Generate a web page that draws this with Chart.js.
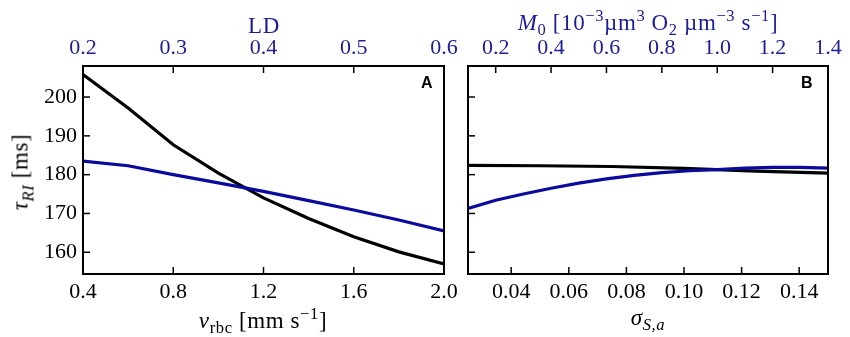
<!DOCTYPE html>
<html>
<head>
<meta charset="utf-8">
<script src="https://cdn.jsdelivr.net/npm/chart.js@4"></script>
<style>
  body { margin: 0; background: #fff; }
  #wrap { position: relative; width: 850px; height: 337px; overflow: hidden; font-family: "Liberation Serif", serif; }
  canvas { position: absolute; top: 0; }
  .lbl { position: absolute; white-space: nowrap; font-size: 23px; letter-spacing: 0.6px; line-height: 1; transform: translate(-50%, -50%); }
  .blue { color: #1c1c96; }
  .panel { position: absolute; font-family: "Liberation Sans", Arial, sans-serif; font-weight: bold; font-size: 16px; }
  sub, sup { font-size: 72%; line-height: 0; }
</style>
</head>
<body>
<div id="wrap">
  <canvas id="chartA" width="470" height="337" style="left:0"></canvas>
  <canvas id="chartB" width="395" height="337" style="left:455px"></canvas>

  <div class="lbl blue" style="left:264px; top:25px">LD</div>
  <div class="lbl blue" style="left:648px; top:22px"><i>M</i><sub>0</sub> [10<sup>&minus;3</sup>&micro;m<sup>3</sup> O<sub>2</sub> &micro;m<sup>&minus;3</sup> s<sup>&minus;1</sup>]</div>
  <div class="lbl" style="left:263px; top:320px"><i>v</i><sub>rbc</sub> [mm s<sup>&minus;1</sup>]</div>
  <div class="lbl" style="left:648px; top:317px"><i>&sigma;</i><sub><i>S,a</i></sub></div>
  <div class="lbl" style="left:20px; top:172px; transform: translate(-50%, -50%) rotate(-90deg)"><i>&tau;</i><sub><i>RI</i></sub> [ms]</div>
  <div class="panel" style="left:421px; top:74px">A</div>
  <div class="panel" style="left:801px; top:74px">B</div>
</div>

<script>
// panel A: tau vs red blood cell velocity (black) and vs LD (blue)
const vrbc = [0.4, 0.6, 0.8, 1.0, 1.2, 1.4, 1.6, 1.8, 2.0];
const tauVrbc = [205.8, 197.2, 187.7, 180.4, 174.0, 168.7, 164.0, 160.1, 157.0];
const ld = [0.2, 0.25, 0.3, 0.35, 0.4, 0.45, 0.5, 0.55, 0.6];
const tauLd = [183.5, 182.3, 180.0, 177.9, 175.7, 173.3, 170.9, 168.3, 165.5];

// panel B: tau vs sigma_S,a (black) and vs M0 (blue)
const sigma = [0.025, 0.05, 0.075, 0.1, 0.125, 0.15];
const tauSigma = [182.4, 182.3, 182.1, 181.6, 180.9, 180.4];
const m0 = [0.1, 0.2, 0.3, 0.4, 0.5, 0.6, 0.7, 0.8, 0.9, 1.0, 1.1, 1.2, 1.3, 1.4];
const tauM0 = [171.3, 173.4, 175.0, 176.5, 177.8, 178.9, 179.8, 180.5, 181.0, 181.3, 181.7, 181.9, 181.9, 181.7];

// tick labels
const yTicks = [160, 170, 180, 190, 200];
const vrbcTicks = [0.4, 0.8, 1.2, 1.6, 2.0];
const ldTicks = [0.2, 0.3, 0.4, 0.5, 0.6];
const sigmaTicks = [0.04, 0.06, 0.08, 0.10, 0.12, 0.14];
const m0Ticks = [0.2, 0.4, 0.6, 0.8, 1.0, 1.2, 1.4];

const BLACK = '#000000';
const BLUE = '#0a0a9c';
const TXT_BLUE = '#1c1c96';
const tickFont = { family: '"Liberation Serif", serif', size: 22 };

// inward tick marks and box frame, like the matplotlib look
const frameTicks = {
    id: 'frameTicks',
    afterDraw(chart) {
        const ctx = chart.ctx;
        const a = chart.chartArea;
        ctx.save();
        ctx.strokeStyle = '#000';
        ctx.lineWidth = 1.5;
        Object.values(chart.scales).forEach(s => {
            s.ticks.forEach(t => {
                const p = s.getPixelForValue(t.value);
                ctx.beginPath();
                if (s.axis === 'y') {
                    ctx.moveTo(a.left, p); ctx.lineTo(a.left + 7, p);
                } else if (s.position === 'top') {
                    ctx.moveTo(p, a.top); ctx.lineTo(p, a.top + 7);
                } else {
                    ctx.moveTo(p, a.bottom); ctx.lineTo(p, a.bottom - 7);
                }
                ctx.stroke();
            });
        });
        ctx.lineWidth = 2;
        ctx.strokeRect(a.left, a.top, a.right - a.left, a.bottom - a.top);
        ctx.restore();
    }
};

function toPoints(xs, ys) {
    return xs.map((x, i) => ({ x: x, y: ys[i] }));
}

function xAxis(pos, min, max, ticks, digits, color, height) {
    return {
        type: 'linear',
        position: pos,
        min: min,
        max: max,
        grid: { display: false, drawTicks: false },
        border: { display: false },
        afterBuildTicks: s => { s.ticks = ticks.map(v => ({ value: v })); },
        afterFit: s => { s.height = height; },
        ticks: {
            autoSkip: false,
            maxRotation: 0,
            color: color,
            font: tickFont,
            padding: pos === 'top' ? 5 : 5,
            callback: v => Number(v).toFixed(digits)
        }
    };
}

function yAxis(showLabels, width) {
    return {
        type: 'linear',
        min: 154.4,
        max: 208,
        grid: { display: false, drawTicks: false },
        border: { display: false },
        afterBuildTicks: s => { s.ticks = yTicks.map(v => ({ value: v })); },
        afterFit: s => { s.width = width; },
        ticks: {
            display: showLabels,
            color: BLACK,
            font: tickFont,
            padding: 6
        }
    };
}

function lineSet(data, color, xId) {
    return {
        data: data,
        xAxisID: xId,
        borderColor: color,
        borderWidth: 3.2,
        pointRadius: 0,
        tension: 0,
        fill: false
    };
}

const common = {
    responsive: false,
    animation: false,
    devicePixelRatio: 1,
    plugins: { legend: { display: false }, tooltip: { enabled: false } }
};

new Chart(document.getElementById('chartA'), {
    type: 'line',
    data: {
        datasets: [
            lineSet(toPoints(ld, tauLd), BLUE, 'x2'),
            lineSet(toPoints(vrbc, tauVrbc), BLACK, 'x')
        ]
    },
    options: Object.assign({}, common, {
        layout: { padding: { left: 0, right: 26, top: 0, bottom: 0 } },
        scales: {
            x: xAxis('bottom', 0.4, 2.0, vrbcTicks, 1, BLACK, 63),
            x2: xAxis('top', 0.2, 0.6, ldTicks, 1, TXT_BLUE, 66),
            y: yAxis(true, 83)
        }
    }),
    plugins: [frameTicks]
});

new Chart(document.getElementById('chartB'), {
    type: 'line',
    data: {
        datasets: [
            lineSet(toPoints(m0, tauM0), BLUE, 'x2'),
            lineSet(toPoints(sigma, tauSigma), BLACK, 'x')
        ]
    },
    options: Object.assign({}, common, {
        layout: { padding: { left: 0, right: 22, top: 0, bottom: 0 } },
        scales: {
            x: xAxis('bottom', 0.025, 0.15, sigmaTicks, 2, BLACK, 63),
            x2: xAxis('top', 0.1, 1.4, m0Ticks, 1, TXT_BLUE, 66),
            y: yAxis(false, 13)
        }
    }),
    plugins: [frameTicks]
});
</script>
</body>
</html>
